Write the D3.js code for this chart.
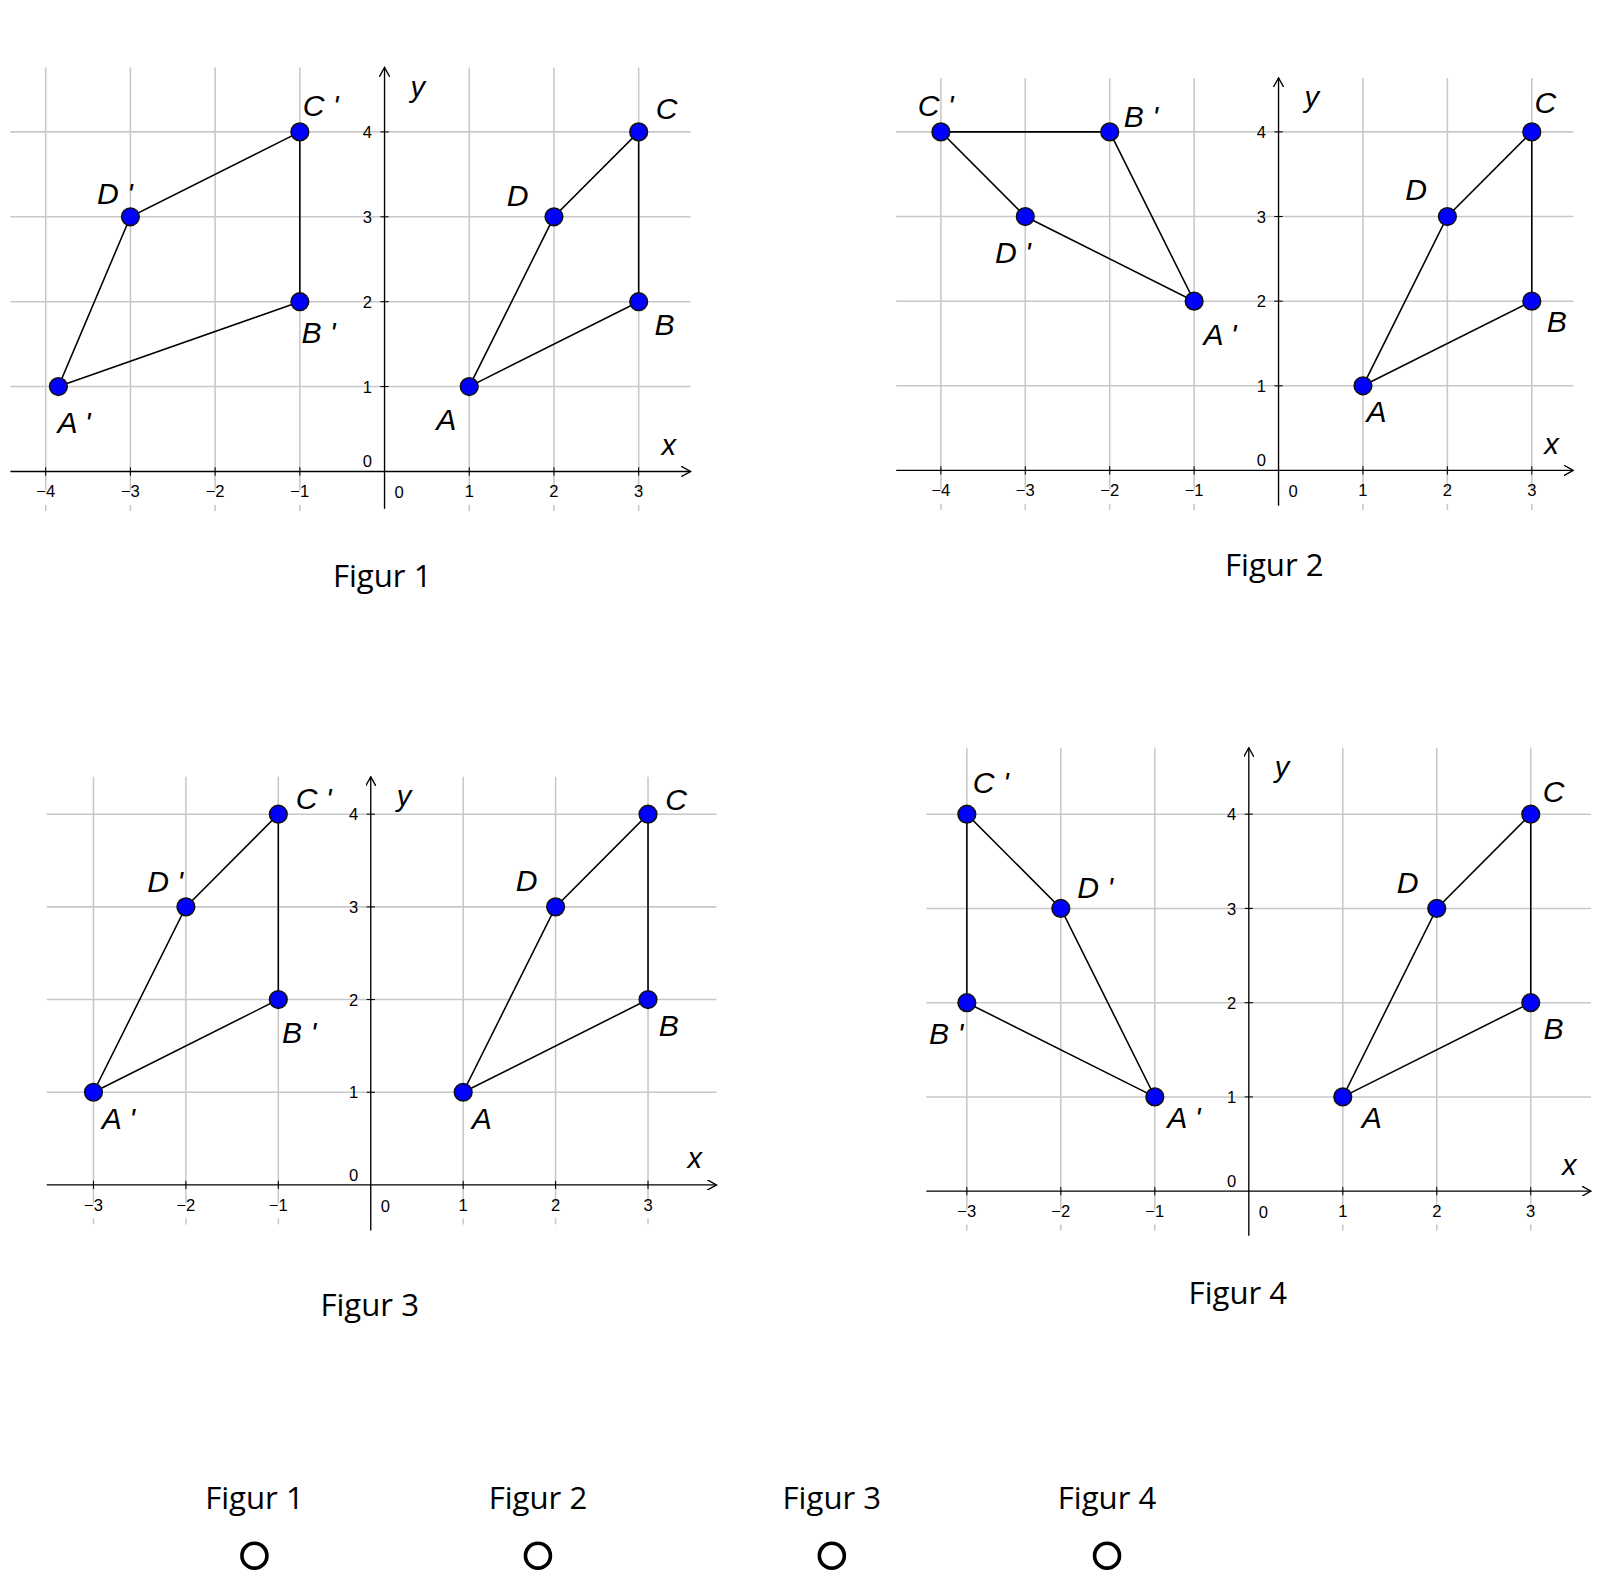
<!DOCTYPE html>
<html><head><meta charset="utf-8">
<script src="https://cdn.jsdelivr.net/npm/d3@7"></script>
<style>body{margin:0;background:#fff}</style>
</head><body>
<script>
const pointNames = ["A","B","C","D"];
const original = [[1,1],[3,2],[3,4],[2,3]];
const images1 = [[-3.85,1],[-1,2],[-1,4],[-3,3]];
const images2 = [[-1,2],[-2,4],[-4,4],[-3,3]];
const images3 = [[-3,1],[-1,2],[-1,4],[-2,3]];
const images4 = [[-1,1],[-3,2],[-3,4],[-2,3]];
const figureTitles = ["Figur 1","Figur 2","Figur 3","Figur 4"];
const xTicks1 = [-4,-3,-2,-1,1,2,3];
const xTicks2 = [-4,-3,-2,-1,1,2,3];
const xTicks3 = [-3,-2,-1,1,2,3];
const xTicks4 = [-3,-2,-1,1,2,3];
const yTicks = [1,2,3,4];

// layout (not data)
const panels = [
 {img:images1, xt:xTicks1, dom:[-4,3], rx:[44,615], ry:[454,127], box:[10,665,65,490], title:[368,555],
  lab:{A:[-22,42],B:[25,32],C:[27,-12],D:[-35,-10],"A'":[15,45],"B'":[18,40],"C'":[20,-15],"D'":[-15,-12]}},
 {img:images2, xt:xTicks2, dom:[-4,3], rx:[906,1475], ry:[453,127], box:[863,1515,75,487], title:[1227,545],
  lab:{A:[13,35],B:[24,30],C:[13,-18],D:[-30,-16],"A'":[25,42],"B'":[30,-5],"C'":[-5,-15],"D'":[-12,45]}},
 {img:images3, xt:xTicks3, dom:[-3,3], rx:[90,624], ry:[1141,784], box:[45,690,748,1185], title:[356,1257],
  lab:{A:[18,35],B:[20,35],C:[27,-4],D:[-28,-15],"A'":[24,35],"B'":[20,42],"C'":[34,-5],"D'":[-20,-14]}},
 {img:images4, xt:xTicks4, dom:[-3,3], rx:[931,1474], ry:[1147,784], box:[892,1532,720,1190], title:[1192,1246],
  lab:{A:[28,30],B:[22,35],C:[22,-12],D:[-28,-15],"A'":[28,30],"B'":[-20,40],"C'":[23,-20],"D'":[33,-10]}}
];

const root = d3.select("body").append("svg").attr("width",1620).attr("height",1590)
 .style("font-family","'Liberation Sans',Arial,sans-serif");
root.append("defs").append("marker").attr("id","arr").attr("viewBox","0 0 10 10").attr("refX",9).attr("refY",5)
 .attr("markerWidth",10).attr("markerHeight",10).attr("markerUnits","userSpaceOnUse").attr("orient","auto")
 .append("path").attr("d","M0,0L9,5L0,10").attr("fill","none").attr("stroke","#000").attr("stroke-width",1.3);
const svg = root.append("g").attr("transform","scale(1.0385)");

panels.forEach((p,pi)=>{
  const x = d3.scaleLinear().domain(p.dom).range(p.rx);
  const y = d3.scaleLinear().domain([0,4]).range(p.ry);
  const g = svg.append("g");
  const [x0,x1,yTop,yBot] = p.box;
  p.xt.forEach(t=>g.append("line").attr("x1",x(t)).attr("x2",x(t)).attr("y1",yTop).attr("y2",y(0)+18).attr("stroke","#c8c8c8").attr("stroke-width",1.5));
  p.xt.forEach(t=>g.append("line").attr("x1",x(t)).attr("x2",x(t)).attr("y1",y(0)+32).attr("y2",y(0)+38).attr("stroke","#c8c8c8").attr("stroke-width",1.5));
  yTicks.forEach(t=>g.append("line").attr("x1",x0).attr("x2",x1).attr("y1",y(t)).attr("y2",y(t)).attr("stroke","#c8c8c8").attr("stroke-width",1.5));
  g.append("line").attr("x1",x0).attr("x2",x1).attr("y1",y(0)).attr("y2",y(0)).attr("stroke","#000").attr("stroke-width",1.3).attr("marker-end","url(#arr)");
  g.append("line").attr("x1",x(0)).attr("x2",x(0)).attr("y1",yBot).attr("y2",yTop).attr("stroke","#000").attr("stroke-width",1.3).attr("marker-end","url(#arr)");
  p.xt.forEach(t=>{
    g.append("line").attr("x1",x(t)).attr("x2",x(t)).attr("y1",y(0)-4).attr("y2",y(0)+4).attr("stroke","#000");
    g.append("text").attr("x",x(t)).attr("y",y(0)+25).attr("text-anchor","middle").attr("font-size",16)
     .text(t<0?"\u2212"+(-t):t);
  });
  yTicks.forEach(t=>{
    g.append("line").attr("x1",x(0)-4).attr("x2",x(0)+4).attr("y1",y(t)).attr("y2",y(t)).attr("stroke","#000");
    g.append("text").attr("x",x(0)-12).attr("y",y(t)+6).attr("text-anchor","end").attr("font-size",16).text(t);
  });
  g.append("text").attr("x",x(0)-12).attr("y",y(0)-4).attr("text-anchor","end").attr("font-size",16).text("0");
  g.append("text").attr("x",x(0)+14).attr("y",y(0)+26).attr("text-anchor","middle").attr("font-size",16).text("0");
  g.append("text").attr("x",x(0)+25).attr("y",yTop+28).attr("font-size",28).attr("font-style","italic").text("y");
  g.append("text").attr("x",x1-28).attr("y",y(0)-16).attr("font-size",28).attr("font-style","italic").text("x");
  [original,p.img].forEach(poly=>{
    g.append("path").attr("d",d3.line().x(d=>x(d[0])).y(d=>y(d[1])).curve(d3.curveLinearClosed)(poly))
     .attr("fill","none").attr("stroke","#000").attr("stroke-width",1.5);
  });
  const pts = original.map((d,i)=>({d,n:pointNames[i]})).concat(p.img.map((d,i)=>({d,n:pointNames[i]+"'"})));
  pts.forEach(o=>{
    g.append("circle").attr("cx",x(o.d[0])).attr("cy",y(o.d[1])).attr("r",8.5).attr("fill","#0000ff").attr("stroke","#111").attr("stroke-width",1.5);
    const off = p.lab[o.n];
    g.append("text").attr("x",x(o.d[0])+off[0]).attr("y",y(o.d[1])+off[1]).attr("text-anchor","middle")
     .attr("font-size",29).attr("font-style","italic").text(o.n.replace("'"," '"));
  });
  g.append("text").attr("x",p.title[0]).attr("y",p.title[1]+10).attr("text-anchor","middle").attr("font-size",30)
   .attr("font-family","'Open Sans',sans-serif").text(figureTitles[pi]);
});

const bottomX = [245,518,801,1066];
figureTitles.forEach((t,i)=>{
  svg.append("text").attr("x",bottomX[i]).attr("y",1453).attr("text-anchor","middle").attr("font-size",30)
   .attr("font-family","'Open Sans',sans-serif").text(t);
  svg.append("circle").attr("cx",bottomX[i]).attr("cy",1498).attr("r",12).attr("fill","none").attr("stroke","#000").attr("stroke-width",3.5);
});
</script>
</body></html>
